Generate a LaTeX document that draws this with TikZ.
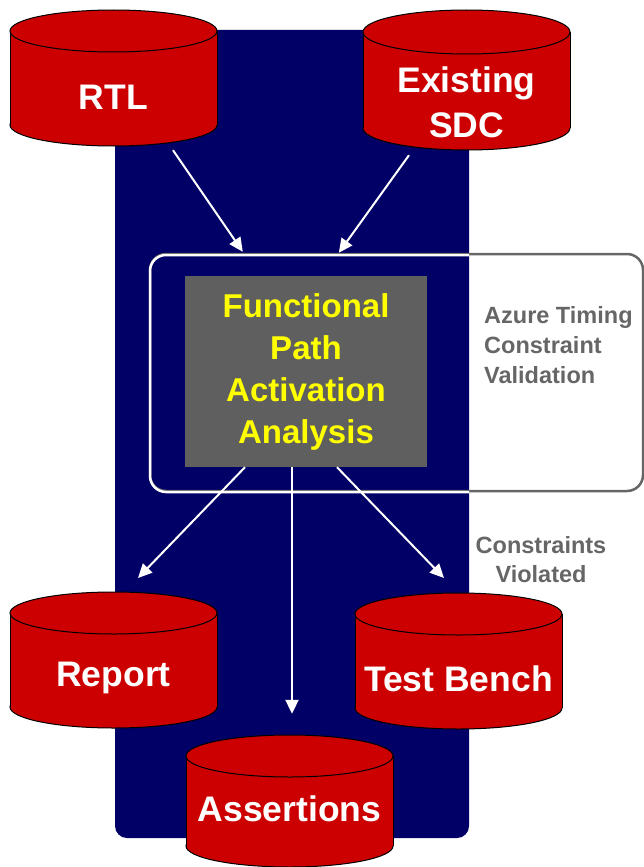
\documentclass[tikz,border=0pt]{standalone}
\usepackage{fontspec}
\setmainfont{Liberation Sans}
\usetikzlibrary{arrows.meta,calc}

\definecolor{panelnavy}{RGB}{0,0,102}
\definecolor{drumred}{RGB}{204,0,0}
\definecolor{boxgray}{RGB}{95,95,95}
\definecolor{notegray}{RGB}{102,102,102}
\definecolor{hiyellow}{RGB}{255,255,0}

% Database drum: name, left x, right x, top-face y, bottom-face y, ellipse half height
\newcommand\drum[6]{%
  \pgfmathsetmacro\dcx{(#2+#3)/2}%
  \pgfmathsetmacro\drx{(#3-#2)/2}%
  \pgfmathsetmacro\dmid{(#4+#5)/2}%
  \pgfmathsetmacro\dht{#5-#4+2*#6}%
  \draw[drumline] (\dcx,#5) ellipse [x radius=\drx, y radius=#6];
  \fill[drumred] (#2,#4) rectangle (#3,#5);
  \draw[drumline] (#2,#4) -- (#2,#5) (#3,#4) -- (#3,#5);
  \draw[drumline] (\dcx,#4) ellipse [x radius=\drx, y radius=#6];
  \node[inner sep=0pt, minimum width=2*\drx, minimum height=\dht] (#1) at (\dcx,\dmid) {};
}

\begin{document}
\begin{tikzpicture}[x=1pt, y=-1pt,
  drumline/.style={draw=black, fill=drumred, line width=1pt},
  drumtext/.style={text=white, font=\bfseries\fontsize{35.5}{45}\selectfont, align=center, inner sep=0pt},
  flow/.style={draw=white, line width=2pt, -{Triangle[length=14pt, width=13pt]}},
  notetext/.style={text=notegray, font=\bfseries\fontsize{23.5}{30}\selectfont, inner sep=0pt}]

\useasboundingbox (0,0) rectangle (644,867);

% navy backdrop
\path[fill=panelnavy, rounded corners=12pt] (115,30) rectangle (469,838);

% validation frame: grey outside the backdrop, white inside it
\draw[notegray, line width=2.5pt, rounded corners=16pt] (150,254) rectangle (643,491);
\begin{scope}
  \clip[rounded corners=12pt] (115,30) rectangle (469,838);
  \draw[white, line width=2.5pt, rounded corners=16pt] (150,255) rectangle (660,492);
\end{scope}
\node[inner sep=0pt, minimum width=493, minimum height=237] (frame) at (396.5,372.5) {};

% analysis box
\node[fill=boxgray, minimum width=242, minimum height=191, inner sep=0pt,
      text=hiyellow, align=center, font=\bfseries\fontsize{33}{42}\selectfont]
  (fpa) at (306,371.5) {Functional\\Path\\Activation\\Analysis};

\node[notetext, anchor=west, align=left] (azure) at (484,345)
  {Azure Timing\\Constraint\\Validation};
\node[notetext, align=center, font=\bfseries\fontsize{23.5}{29}\selectfont] (violated) at (541,559.5)
  {Constraints\\Violated};

% inputs and outputs
\drum{rtl}{10}{217}{31}{125}{21}
\node[drumtext] (rtl-label) at (113.5,97) {RTL};
\drum{sdc}{363}{570}{32}{128}{22}
\node[drumtext] (sdc-label) at (466.5,102.5) {Existing\\SDC};
\drum{report}{10}{217}{613}{707}{21}
\node[drumtext] (report-label) at (113.5,678) {Report};
\drum{bench}{355}{562}{614}{708}{21}
\node[drumtext] (bench-label) at (458.5,679) {Test Bench};
\drum{assert}{186}{393}{756}{846}{21}
\node[drumtext] (assert-label) at (289.5,809) {Assertions};

% connector end points
\coordinate (rtl-out) at ($(rtl.south)+(59.5,4)$);
\coordinate (sdc-out) at ($(sdc.south)+(-57.5,5)$);
\coordinate (frame-in-l) at ($(frame.north west)+(93,-2)$);
\coordinate (frame-in-r) at ($(frame.north west)+(189,-1)$);
\coordinate (fpa-out-l) at ($(fpa.south)+(-61,0)$);
\coordinate (fpa-out-m) at ($(fpa.south)+(-14,0)$);
\coordinate (fpa-out-r) at ($(fpa.south)+(31,0)$);
\coordinate (report-in) at (138,578);
\coordinate (bench-in) at (444,578);
\coordinate (assert-in) at ($(fpa-out-m |- assert.north)+(0,-21)$);

\draw[flow] (rtl-out) -- (frame-in-l);
\draw[flow] (sdc-out) -- (frame-in-r);
\draw[flow] (fpa-out-l) -- (report-in);
\draw[flow] (fpa-out-m) -- (assert-in);
\draw[flow] (fpa-out-r) -- (bench-in);

\end{tikzpicture}
\end{document}
